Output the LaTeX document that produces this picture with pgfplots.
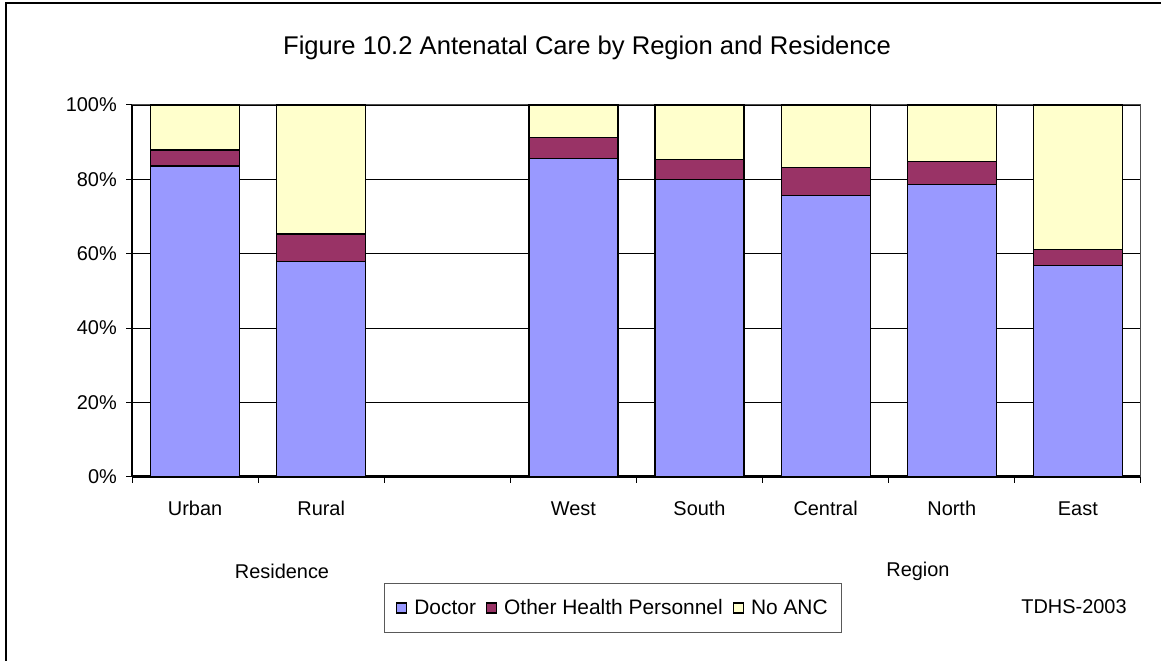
\documentclass[border=0pt]{standalone}
\usepackage{fontspec}
\setmainfont{Liberation Sans}
\usepackage{pgfplots}
\usepackage{pgfplotstable}
\pgfplotsset{compat=1.18}

\definecolor{doctor}{HTML}{9999FF}
\definecolor{otherhp}{HTML}{993366}
\definecolor{noanc}{HTML}{FFFFCC}

% share of women by source of antenatal care, slot 2 is the gap
\pgfplotstableread{
x doctor other noanc
0 83.6 4.3 12.1
1 57.8 7.5 34.7
3 85.7 5.5 8.8
4 79.9 5.4 14.7
5 75.6 7.5 16.9
6 78.7 6.0 15.3
7 56.8 4.3 38.9
}\anc

\newcommand\lbl{\fontsize{20}{24}\selectfont}

\begin{document}
\begin{tikzpicture}[x=1bp,y=1bp]
\useasboundingbox (0,0) rectangle (1161,661);
\draw[line width=2bp] (6,0) -- (6,658) -- (1161,658);
\node[font=\fontsize{25.7}{30}\selectfont] at (587,613) {Figure 10.2 Antenatal Care by Region and Residence};

\begin{axis}[
  at={(132bp,184.3bp)}, anchor=south west,
  scale only axis, width=1009bp, height=371.7bp,
  ybar stacked, bar width=89bp,
  xmin=-0.5, xmax=7.5, ymin=0, ymax=100,
  axis lines*=left, axis line style={-},
  x axis line style={line width=2.5bp},
  y axis line style={line width=1.5bp},
  xtick={0,1,3,4,5,6,7},
  xticklabels={Urban,Rural,West,South,Central,North,East},
  minor xtick={-0.5,0.5,...,7.5},
  major x tick style={draw=none},
  tick align=outside, major tick length=6bp, minor tick length=6bp,
  tick style={black, line width=1bp},
  ytick={0,20,...,100},
  yticklabel={\pgfmathprintnumber{\tick}\%},
  /pgf/number format/assume math mode=true,
  ymajorgrids, major grid style={black, line width=0.8bp},
  every tick label/.append style={font=\lbl},
  xticklabel style={anchor=base, yshift=-33bp},
  yticklabel style={anchor=east, inner sep=0pt, xshift=-9bp},
  legend columns=3,
  legend style={at={(0.4767,-0.3532)}, anchor=center,
    font=\fontsize{21}{25}\selectfont,
    draw=gray!70!black, line width=1bp, inner xsep=12bp, inner ysep=14bp,
    /tikz/every odd column/.append style={column sep=5bp},
    /tikz/every even column/.append style={column sep=8bp}},
  legend image code/.code={\draw[#1,draw=black,line width=1.2bp] (0bp,-5bp) rectangle (10bp,5bp);},
  clip=false,
]
\addplot[fill=doctor, draw=black, line width=1.2bp] table[x=x,y=doctor]{\anc};
\addlegendentry{Doctor}
\addplot[fill=otherhp, draw=black, line width=1.2bp] table[x=x,y=other]{\anc};
\addlegendentry{Other Health Personnel}
\addplot[fill=noanc, draw=black, line width=1.2bp] table[x=x,y=noanc]{\anc};
\addlegendentry{No ANC}
\draw[gray!60!black, line width=1bp] (rel axis cs:0,1) -- (rel axis cs:1,1) -- (rel axis cs:1,0);
\end{axis}

\node[font=\lbl] at (282,90) {Residence};
\node[font=\lbl] at (918,90) {Region};
\node[font=\lbl] at (1074,54) {TDHS-2003};
\end{tikzpicture}
\end{document}
